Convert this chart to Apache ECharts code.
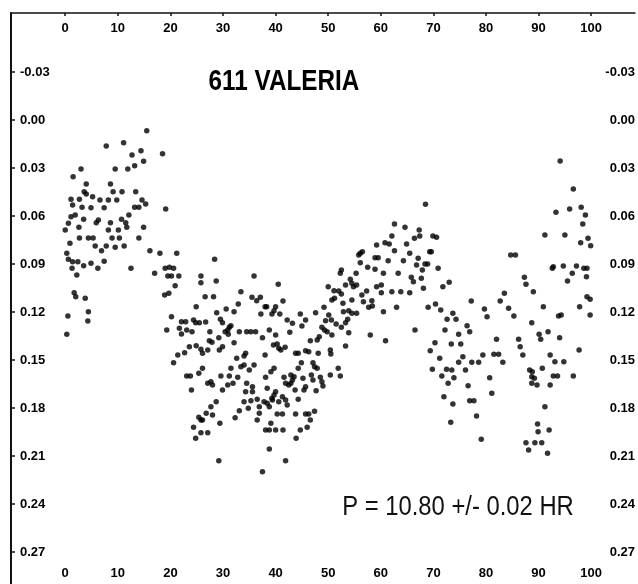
<!DOCTYPE html>
<html><head><meta charset="utf-8">
<script src="https://cdn.jsdelivr.net/npm/echarts@6/dist/echarts.min.js"></script>
<style>html,body{margin:0;padding:0;background:#fff}#c{width:638px;height:584px}</style>
</head><body><div id="c"></div>
<script>
const xTicks = [0,10,20,30,40,50,60,70,80,90,100];
const yTicks = [-0.03,0,0.03,0.06,0.09,0.12,0.15,0.18,0.21,0.24,0.27];
const titleText = '611 VALERIA';
const periodText = 'P = 10.80 +/- 0.02 HR';

// phase (%) , relative magnitude
const groupA = [
[15.5,0.0067],[7.8,0.0163],[11.1,0.0142],[14.4,0.0192],[12.7,0.0219],[18.5,0.0211],[14.9,0.0258],[13.2,0.0286],
[11.9,0.0306],[9.5,0.0306],[3.0,0.0306],[1.5,0.0354],[4.0,0.0400],[8.6,0.0400],[3.6,0.0448],[4.0,0.0463],
[9.1,0.0448],[10.8,0.0448],[13.4,0.0448],[1.1,0.0496],[2.7,0.0496],[5.2,0.0479],[6.6,0.0500],[8.2,0.0500],
[9.8,0.0500],[14.6,0.0500],[1.4,0.0531],[3.2,0.0546],[4.9,0.0548],[7.4,0.0548],[13.2,0.0546],[14.0,0.0546],
[15.3,0.0525],[19.1,0.0556],[1.9,0.0594],[1.1,0.0604],[3.5,0.0621],[6.3,0.0625],[12.1,0.0594],[8.6,0.0642],
[10.7,0.0621],[11.5,0.0642],[0.6,0.0646],[0.0,0.0688],[2.6,0.0671],[5.9,0.0642],[8.2,0.0688],[10.1,0.0688],
[11.7,0.0671],[14.9,0.0671],[2.7,0.0738],[4.4,0.0738],[5.3,0.0738],[8.9,0.0738],[10.3,0.0738],[14.0,0.0738],
[0.9,0.0771],[5.7,0.0788],[7.8,0.0788],[9.5,0.0796],[11.2,0.0788],[6.9,0.0817],[16.1,0.0817],[18.0,0.0833],
[21.2,0.0833],[0.3,0.0833],[0.6,0.0871],[1.4,0.0886],[2.4,0.0886],[3.5,0.0911],[4.9,0.0896],[7.4,0.0883],
[1.3,0.0927],[6.2,0.0927],[12.5,0.0927],[2.2,0.0969],[17.0,0.0958],[19.0,0.0927],[19.8,0.0921],[20.6,0.0927],
[19.5,0.0975],[20.2,0.0975],[21.6,0.0975],[20.9,0.1036],[18.9,0.1094],[19.7,0.1083],[1.7,0.1079],[2.0,0.1104],
[3.8,0.1114],[0.3,0.1339],[4.4,0.1198],[4.3,0.1256],[0.5,0.1225]
];
const groupB = [
[28.4,0.0871],[25.8,0.0975],[25.8,0.1017],[28.7,0.1006],[35.9,0.0975],[40.5,0.1027],[33.4,0.1073],[26.6,0.1104],
[28.2,0.1104],[35.5,0.1108],[36.4,0.1129],[37.1,0.1108],[41.4,0.1131],[32.9,0.1150],[24.9,0.1167],[30.6,0.1181],
[32.1,0.1198],[38.0,0.1167],[38.3,0.1167],[40.0,0.1167],[39.7,0.1192],[39.3,0.1213],[37.2,0.1213],[28.8,0.1204],
[40.8,0.1213],[44.7,0.1213],[20.2,0.1229],[45.7,0.1250],[42.2,0.1250],[43.2,0.1271],[29.5,0.1246],[29.9,0.1267],
[22.1,0.1261],[22.9,0.1261],[24.4,0.1250],[24.8,0.1267],[25.5,0.1267],[26.7,0.1263],[31.5,0.1286],[31.2,0.1296],
[30.9,0.1313],[45.0,0.1288],[21.7,0.1302],[22.1,0.1338],[23.1,0.1313],[24.1,0.1323],[19.3,0.1313],[27.5,0.1323],
[30.4,0.1323],[33.1,0.1323],[34.5,0.1323],[35.3,0.1323],[36.2,0.1323],[38.8,0.1313],[40.0,0.1344],[42.7,0.1327],
[31.0,0.1339],[29.2,0.1361],[37.5,0.1361],[32.1,0.1392],[27.4,0.1379],[27.9,0.1389],[24.9,0.1411],[23.6,0.1417],
[29.9,0.1417],[29.3,0.1438],[25.8,0.1433],[27.1,0.1438],[26.1,0.1458],[39.6,0.1406],[40.3,0.1400],[40.6,0.1427],
[41.8,0.1421],[41.0,0.1438],[43.8,0.1458],[44.3,0.1458],[45.7,0.1442],[34.3,0.1458],[34.0,0.1475],[32.6,0.1489],
[38.0,0.1469],[21.4,0.1469],[22.7,0.1454],[20.6,0.1517],[33.4,0.1542],[34.0,0.1531],[35.0,0.1563],[35.9,0.1531],
[26.1,0.1552],[25.4,0.1583],[23.1,0.1600],[23.8,0.1600],[29.6,0.1600],[31.5,0.1552],[31.2,0.1600],[32.8,0.1608],
[38.1,0.1608],[39.1,0.1573],[39.7,0.1552],[41.6,0.1608],[42.9,0.1594],[43.2,0.1625],[42.9,0.1646],[43.5,0.1604],
[44.9,0.1517],[44.3,0.1552],[45.2,0.1614],[27.1,0.1646],[27.7,0.1636],[28.0,0.1656],[30.9,0.1656],[31.9,0.1646],
[34.5,0.1646],[35.6,0.1667],[35.6,0.1698],[41.9,0.1646],[42.5,0.1656],[43.7,0.1688],[45.7,0.1667],[24.0,0.1688],
[29.9,0.1688],[34.3,0.1698],[38.4,0.1677],[40.0,0.1698],[39.7,0.1719],[39.3,0.1739],[41.3,0.1729],[34.0,0.1761],
[35.3,0.1754],[36.5,0.1746],[37.8,0.1761],[38.4,0.1771],[39.4,0.1750],[40.6,0.1761],[41.9,0.1750],[42.2,0.1781],
[44.3,0.1746],[28.7,0.1761],[27.7,0.1792],[36.9,0.1792],[38.8,0.1792],[33.1,0.1817],[34.8,0.1802],[36.9,0.1833],
[26.8,0.1833],[28.0,0.1844],[40.3,0.1838],[41.3,0.1838],[43.8,0.1838],[45.7,0.1838],[25.4,0.1858],[25.8,0.1875],
[26.1,0.1875],[32.3,0.1861],[36.5,0.1875],[29.4,0.1896],[39.1,0.1896],[24.4,0.1921],[46.0,0.1921],[38.1,0.1938],
[38.8,0.1938],[40.0,0.1938],[41.4,0.1938],[44.7,0.1938],[25.8,0.1954],[27.1,0.1954],[24.8,0.1989],[43.9,0.1989],
[38.8,0.2056],[29.2,0.2129],[41.9,0.2129],[37.5,0.2198],[46.6,0.1875],[47.4,0.1821],[47.7,0.1692],[46.3,0.1838]
];
const groupC = [
[62.6,0.0650],[64.6,0.0671],[67.3,0.0688],[69.9,0.0725],[70.6,0.0733],[62.1,0.0725],[66.4,0.0739],[67.4,0.0725],
[60.8,0.0767],[61.6,0.0775],[59.2,0.0781],[64.9,0.0775],[62.6,0.0817],[65.5,0.0833],[69.3,0.0823],[69.6,0.0823],
[56.1,0.0833],[55.8,0.0844],[56.5,0.0823],[58.9,0.0861],[59.5,0.0861],[61.4,0.0879],[64.3,0.0879],[67.1,0.0864],
[56.1,0.0892],[68.4,0.0900],[68.9,0.0900],[57.5,0.0921],[58.9,0.0933],[66.8,0.0906],[70.9,0.0927],[52.5,0.0938],
[52.3,0.0958],[55.3,0.0958],[60.5,0.0958],[63.3,0.0958],[67.9,0.0938],[54.2,0.0996],[54.5,0.1021],[65.8,0.0983],
[66.2,0.1011],[67.7,0.0989],[71.8,0.1042],[53.3,0.1031],[54.8,0.1042],[55.4,0.1031],[59.2,0.1042],[60.1,0.1031],
[68.1,0.1052],[50.0,0.1042],[52.0,0.1069],[52.5,0.1088],[57.3,0.1069],[56.4,0.1094],[60.1,0.1079],[62.1,0.1073],
[63.8,0.1073],[65.5,0.1079],[51.2,0.1114],[50.7,0.1125],[54.5,0.1125],[56.7,0.1136],[58.3,0.1129],[52.8,0.1146],
[57.7,0.1171],[58.4,0.1163],[49.2,0.1171],[60.5,0.1198],[63.0,0.1171],[69.0,0.1171],[70.4,0.1150],[71.4,0.1188],
[52.9,0.1198],[53.9,0.1192],[54.5,0.1208],[55.4,0.1208],[47.6,0.1204],[50.1,0.1219],[53.7,0.1246],[53.3,0.1267],
[49.5,0.1254],[50.6,0.1250],[51.5,0.1275],[52.5,0.1296],[48.8,0.1296],[49.3,0.1313],[49.8,0.1323],[50.7,0.1344],
[53.9,0.1329],[66.5,0.1313],[72.2,0.1313],[58.0,0.1344],[48.3,0.1354],[47.9,0.1375],[46.6,0.1379],[60.9,0.1379],
[70.3,0.1392],[53.3,0.1413],[50.4,0.1438],[46.3,0.1448],[48.1,0.1458],[50.5,0.1463],[69.4,0.1442],[71.2,0.1489],
[72.5,0.1558],[69.8,0.1558],[71.6,0.1600],[47.1,0.1517],[47.4,0.1542],[47.9,0.1552],[51.9,0.1552],[50.4,0.1594],
[52.3,0.1600],[46.8,0.1594],[47.1,0.1625],[48.5,0.1608],[48.8,0.1636],[49.0,0.1663],[45.4,0.1688],[51.1,0.1067],
[68.5,0.0527]
];
const groupD = [
[94.1,0.0256],[96.6,0.0431],[93.3,0.0577],[95.9,0.0556],[98.1,0.0546],[98.9,0.0594],[98.4,0.0650],[91.2,0.0719],
[95.0,0.0719],[98.0,0.0767],[99.4,0.0739],[99.9,0.0786],[84.7,0.0844],[85.6,0.0844],[92.8,0.0917],[92.6,0.0927],
[94.7,0.0913],[97.2,0.0913],[98.6,0.0927],[99.2,0.0927],[96.4,0.0958],[95.5,0.1006],[99.1,0.0979],[87.3,0.0983],
[87.6,0.1027],[89.0,0.1073],[83.5,0.1083],[82.7,0.1131],[77.2,0.1131],[84.3,0.1177],[85.3,0.1225],[90.9,0.1167],
[79.7,0.1181],[80.2,0.1229],[99.2,0.1104],[99.8,0.1121],[97.8,0.1167],[99.8,0.1219],[93.8,0.1225],[94.3,0.1219],
[88.7,0.1267],[76.4,0.1286],[76.9,0.1323],[73.0,0.1014],[73.7,0.1208],[72.6,0.1246],[74.3,0.1246],[74.8,0.1339],
[90.1,0.1339],[90.4,0.1371],[91.8,0.1323],[94.0,0.1361],[97.7,0.1438],[82.0,0.1371],[86.2,0.1371],[86.5,0.1417],
[87.0,0.1469],[73.4,0.1400],[75.2,0.1400],[74.8,0.1514],[75.6,0.1479],[77.3,0.1514],[78.6,0.1514],[79.4,0.1469],
[81.5,0.1464],[82.4,0.1464],[83.2,0.1514],[73.5,0.1563],[73.9,0.1611],[76.1,0.1563],[72.8,0.1646],[76.6,0.1661],
[80.7,0.1611],[81.1,0.1708],[72.0,0.1729],[73.7,0.1775],[76.9,0.1754],[77.7,0.1754],[78.2,0.1850],[73.3,0.1889],
[79.1,0.1996],[88.3,0.1563],[88.8,0.1573],[88.7,0.1604],[89.2,0.1614],[88.7,0.1646],[89.7,0.1656],[90.7,0.1552],
[92.2,0.1656],[92.8,0.1600],[93.6,0.1600],[96.6,0.1600],[91.2,0.1792],[89.8,0.1900],[89.9,0.1948],[92.0,0.1938],
[87.6,0.2017],[89.3,0.2017],[90.6,0.2017],[88.1,0.2063],[91.7,0.2083],[92.2,0.1469],[93.1,0.1511],[94.8,0.1511]
];

const points = groupA.concat(groupB, groupC, groupD);

const FONT = "'Liberation Sans',Arial,sans-serif";
const XMIN = -10.31, XMAX = 108.33;
const YMIN = -0.066875, YMAX = 0.29;

const lab = {fontFamily: FONT, fontWeight: 'bold', fontSize: 13, color: '#000'};

const chart = echarts.init(document.getElementById('c'), null, {renderer: 'canvas'});
chart.setOption({
  animation: false,
  backgroundColor: '#fff',
  grid: {left: 11, right: 0, top: 13, bottom: 0, containLabel: false},
  xAxis: [
    {type: 'value', position: 'top', min: XMIN, max: XMAX,
     axisLine: {show: true, onZero: false, lineStyle: {color: '#111', width: 1.5}},
     axisTick: {show: true, inside: true, length: 3, customValues: xTicks, lineStyle: {color: '#111', width: 1.5}},
     axisLabel: Object.assign({inside: true, margin: 9, customValues: xTicks, formatter: v => String(v)}, lab),
     splitLine: {show: false}},
    {type: 'value', position: 'bottom', min: XMIN, max: XMAX,
     axisLine: {show: false, onZero: false}, axisTick: {show: false},
     axisLabel: Object.assign({inside: true, margin: 4, customValues: xTicks, formatter: v => String(v)}, lab),
     splitLine: {show: false}}
  ],
  yAxis: [
    {type: 'value', position: 'left', inverse: true, min: YMIN, max: YMAX,
     axisLine: {show: true, onZero: false, lineStyle: {color: '#111', width: 2}},
     axisTick: {show: true, inside: true, length: 4, customValues: yTicks, lineStyle: {color: '#111', width: 1.5}},
     axisLabel: Object.assign({inside: true, margin: 9, customValues: yTicks, formatter: v => v.toFixed(2)}, lab),
     splitLine: {show: false}},
    {type: 'value', position: 'right', inverse: true, min: YMIN, max: YMAX,
     axisLine: {show: false, onZero: false}, axisTick: {show: false},
     axisLabel: Object.assign({inside: true, margin: 0, customValues: yTicks, formatter: v => v.toFixed(2)}, lab),
     splitLine: {show: false}}
  ],
  series: [{
    type: 'scatter', xAxisIndex: 0, yAxisIndex: 0, data: points,
    symbol: 'circle', symbolSize: 5.5, itemStyle: {color: '#000'}
  }],
  graphic: [
    {type: 'text', x: 284, y: 82, scaleX: 0.81, style: {text: titleText, fill: '#000', font: "bold 30px " + FONT, textAlign: 'center', textVerticalAlign: 'middle'}},
    {type: 'text', x: 458, y: 507, scaleX: 0.85, style: {text: periodText, fill: '#111', font: "normal 28px " + FONT, textAlign: 'center', textVerticalAlign: 'middle'}}
  ]
});
</script>
</body></html>
